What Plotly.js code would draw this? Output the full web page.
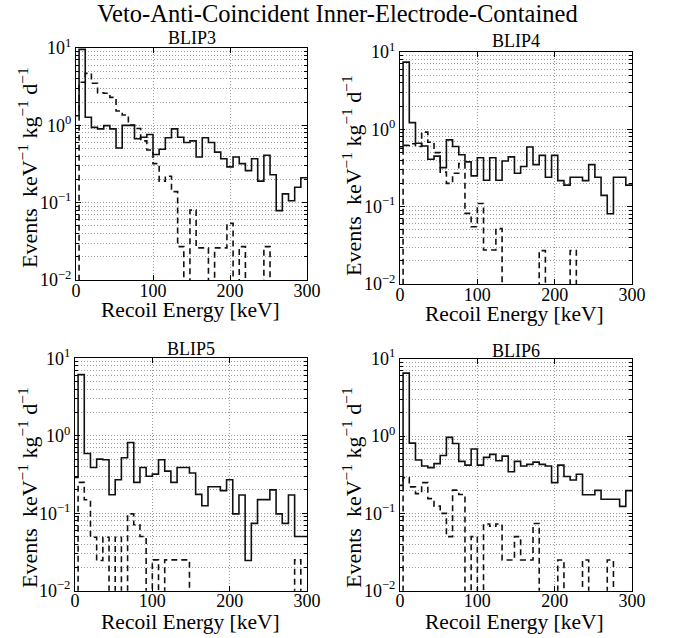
<!DOCTYPE html>
<html><head><meta charset="utf-8">
<script src="https://cdn.plot.ly/plotly-3.0.1.min.js"></script>
<style>html,body{margin:0;padding:0;background:#fff;} #chart{width:683px;height:638px;}</style>
</head><body><div id="chart"></div>
<script>
// Bin edges (keV) of the recoil-energy histograms (first bin partially below 0)
const binEdgesKeV = [-4, 4, 12, 20, 28, 36, 44, 52, 60, 68, 76, 84, 92, 100, 108, 116, 124, 132, 140,
  148, 156, 164, 172, 180, 188, 196, 204, 212, 220, 228, 236, 244, 252, 260, 268, 276, 284, 292, 300];

const panelTitles = ['BLIP3', 'BLIP4', 'BLIP5', 'BLIP6'];
const xTitle = 'Recoil Energy [keV]';
const yTitle = 'Events  keV<sup>\u22121</sup> kg<sup>\u22121</sup> d<sup>\u22121</sup>';

// Solid histogram (events keV^-1 kg^-1 d^-1), one value per bin
const blip3Solid = [1.33, 9.6, 1.27, 0.94, 0.90, 0.99, 0.90, 0.51, 1.0, 1.0, 0.67, 0.70, 0.76, 0.42, 0.49, 0.69,
  0.90, 0.70, 0.60, 0.63, 0.39, 0.69, 0.60, 0.45, 0.37, 0.29, 0.39, 0.32, 0.26, 0.37, 0.19, 0.41, 0.23, 0.079,
  0.13, 0.106, 0.158, 0.21];
const blip3Dashed = [0, 3.6, 4.7, 3.5, 2.64, 2.6, 2.3, 1.53, 1.36, 1.01, 0.91, 0.63, 0.48, 0.32, 0.19, 0.22,
  0.139, 0.027, 0, 0.08, 0.026, 0.026, 0, 0.026, 0.026, 0.054, 0, 0.027, 0, 0, 0, 0.027, 0, 0, 0, 0, 0, 0];

const blip4Solid = [0.57, 7.4, 1.22, 0.66, 0.61, 0.41, 0.45, 0.32, 0.73, 0.60, 0.47, 0.38, 0.25, 0.43, 0.22, 0.43,
  0.22, 0.39, 0.44, 0.27, 0.33, 0.59, 0.35, 0.46, 0.24, 0.46, 0.217, 0.19, 0.24, 0.24, 0.217, 0.35, 0.24, 0.14,
  0.081, 0.24, 0.24, 0.19];
const blip4Dashed = [0, 0.62, 0.65, 0.6, 0.92, 0.68, 0.5, 0.28, 0.20, 0.27, 0.36, 0.082, 0.055, 0.11, 0.0275,
  0.0275, 0.052, 0, 0, 0, 0, 0, 0, 0.027, 0, 0, 0, 0, 0.027, 0, 0, 0, 0, 0, 0, 0, 0, 0];

const blip5Solid = [0.29, 6.15, 0.59, 0.39, 0.50, 0.49, 0.173, 0.27, 0.52, 0.82, 0.25, 0.39, 0.30, 0.32, 0.49,
  0.35, 0.25, 0.39, 0.39, 0.33, 0.175, 0.125, 0.22, 0.22, 0.196, 0.27, 0.098, 0.172, 0.0245, 0.074, 0.15, 0.15,
  0.2, 0.098, 0.074, 0.172, 0.05, 0.05];
const blip5Dashed = [0, 0.25, 0.149, 0.049, 0.0245, 0.049, 0, 0.049, 0, 0.098, 0.071, 0.05, 0, 0.025, 0, 0.025,
  0.025, 0.025, 0.025, 0, 0, 0, 0, 0, 0, 0, 0, 0, 0, 0, 0, 0, 0, 0, 0, 0, 0.025, 0];

const blip6Solid = [0.23, 6.5, 0.81, 0.49, 0.41, 0.39, 0.44, 0.56, 0.96, 0.80, 0.47, 0.42, 0.68, 0.42, 0.53, 0.58,
  0.48, 0.55, 0.345, 0.47, 0.41, 0.43, 0.46, 0.43, 0.41, 0.25, 0.42, 0.30, 0.27, 0.32, 0.174, 0.174, 0.198,
  0.152, 0.152, 0.152, 0.123, 0.197];
const blip6Dashed = [0, 0.29, 0.22, 0.18, 0.25, 0.155, 0.124, 0.10, 0.05, 0.2, 0.175, 0, 0.05, 0, 0.073, 0.068,
  0.073, 0.025, 0.025, 0.05, 0.025, 0.025, 0.074, 0, 0, 0, 0.025, 0, 0, 0, 0.025, 0, 0, 0, 0.025, 0, 0, 0];

const xTickVals = [0, 100, 200, 300];
const yTickVals = [0.01, 0.1, 1, 10];
const yTickText = ['10<sup>\u22122</sup>', '10<sup>\u22121</sup>', '10<sup>0</sup>', '10<sup>1</sup>'];
const yMinorVals = [0.02, 0.03, 0.04, 0.05, 0.06, 0.07, 0.08, 0.09, 0.2, 0.3, 0.4, 0.5, 0.6, 0.7, 0.8, 0.9,
  2, 3, 4, 5, 6, 7, 8, 9];

const solidSeries = [blip3Solid, blip4Solid, blip5Solid, blip6Solid];
const dashedSeries = [blip3Dashed, blip4Dashed, blip5Dashed, blip6Dashed];

// layout geometry (pixels in 683x638 figure)
const W = 683, H = 638;
const boxes = [
  {l: 76, r: 307, t: 48, b: 280, titleY: 38, xLabX: 190, xLabY: 310, yLabX: 28, yLabY: 168},
  {l: 400, r: 632, t: 52, b: 284, titleY: 41, xLabX: 514, xLabY: 314, yLabX: 352, yLabY: 176},
  {l: 75, r: 307, t: 358.3, b: 590.7, titleY: 349, xLabX: 190, xLabY: 622, yLabX: 28, yLabY: 488},
  {l: 400, r: 632, t: 358.7, b: 590.7, titleY: 351, xLabX: 514, xLabY: 622, yLabX: 352, yLabY: 488}
];
const FONT = 'Liberation Serif, Times New Roman, serif';
const ZERO_FLOOR = 1e-4; // empty bins drop below the axis like log(0)

function stepY(vals) {
  const y = vals.map(v => (v > 0 ? v : ZERO_FLOOR));
  y.push(y[y.length - 1]);
  return y;
}

const traces = [];
const layout = {
  width: W, height: H,
  margin: {l: 0, r: 0, t: 0, b: 0},
  paper_bgcolor: '#fff', plot_bgcolor: '#fff',
  showlegend: false,
  font: {family: FONT, color: '#000'},
  title: {text: 'Veto-Anti-Coincident Inner-Electrode-Contained', font: {family: FONT, size: 24.5, color: '#000'},
    x: 0.494, xanchor: 'center', xref: 'container', y: 1 - 13 / H, yanchor: 'middle', yref: 'container'},
  annotations: []
};

boxes.forEach((bx, i) => {
  const n = i === 0 ? '' : String(i + 1);
  const xa = 'x' + n, ya = 'y' + n;
  traces.push({
    x: binEdgesKeV, y: stepY(solidSeries[i]), xaxis: xa, yaxis: ya, type: 'scatter', mode: 'lines',
    line: {shape: 'hv', color: '#111', width: 1.6}, hoverinfo: 'skip'
  });
  traces.push({
    x: binEdgesKeV, y: stepY(dashedSeries[i]), xaxis: xa, yaxis: ya, type: 'scatter', mode: 'lines',
    line: {shape: 'hv', color: '#111', width: 1.6, dash: '6px,4px'}, hoverinfo: 'skip'
  });
  layout['xaxis' + n] = {
    domain: [bx.l / W, bx.r / W], anchor: ya, range: [0, 300],
    tickmode: 'array', tickvals: xTickVals, ticks: 'inside', ticklen: 5, tickcolor: '#000',
    ticklabelstandoff: -6,
    showline: true, mirror: 'ticks', linecolor: '#000', linewidth: 1,
    showgrid: true, gridcolor: '#9a9a9a', griddash: '1px,2px', gridwidth: 1, zeroline: false,
    tickfont: {family: FONT, size: 18, color: '#000'}
  };
  layout['yaxis' + n] = {
    domain: [1 - bx.b / H, 1 - bx.t / H], anchor: xa, type: 'log', range: [-2, 1],
    tickmode: 'array', tickvals: yTickVals, ticktext: yTickText, ticks: 'inside', ticklen: 5, tickcolor: '#000',
    minor: {tickmode: 'array', tickvals: yMinorVals, ticks: 'inside', ticklen: 3, tickcolor: '#000',
      showgrid: true, gridcolor: '#9a9a9a', griddash: '1px,2px', gridwidth: 1},
    showline: true, mirror: 'ticks', linecolor: '#000', linewidth: 1,
    showgrid: true, gridcolor: '#9a9a9a', griddash: '1px,2px', gridwidth: 1, zeroline: false,
    tickfont: {family: FONT, size: 18, color: '#000'}
  };
  layout.annotations.push({
    text: panelTitles[i], xref: 'paper', yref: 'paper', x: (bx.l + bx.r) / 2 / W, y: 1 - bx.titleY / H,
    xanchor: 'center', yanchor: 'middle', showarrow: false, font: {family: FONT, size: 18, color: '#000'}
  });
  layout.annotations.push({
    text: xTitle, xref: 'paper', yref: 'paper', x: bx.xLabX / W, y: 1 - bx.xLabY / H,
    xanchor: 'center', yanchor: 'middle', showarrow: false, font: {family: FONT, size: 21.5, color: '#000'}
  });
  layout.annotations.push({
    text: yTitle, xref: 'paper', yref: 'paper', x: bx.yLabX / W, y: 1 - bx.yLabY / H, textangle: -90,
    xanchor: 'center', yanchor: 'middle', showarrow: false, font: {family: FONT, size: 22, color: '#000'}
  });
});

Plotly.newPlot('chart', traces, layout, {displayModeBar: false, staticPlot: true});
</script>
</body></html>
